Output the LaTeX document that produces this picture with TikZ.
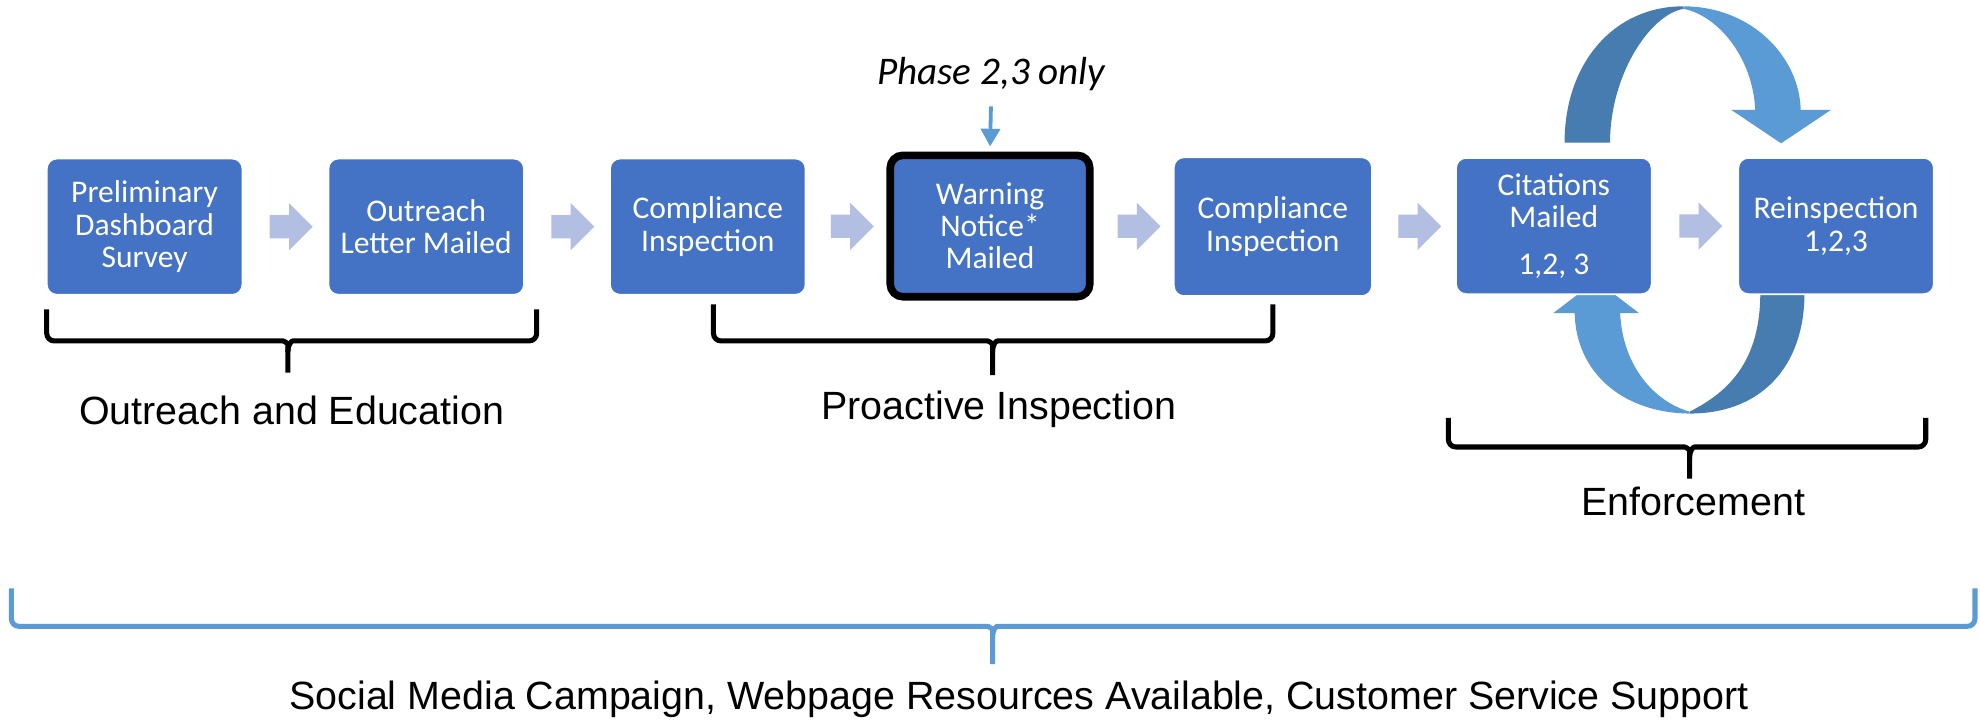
\documentclass[tikz,border=0pt]{standalone}
\usepackage{fontspec}
\setmainfont{Liberation Sans}
\newfontfamily\carlito{Carlito}
\usetikzlibrary{shapes.arrows,calc,arrows.meta}
\definecolor{boxblue}{RGB}{68,114,196}
\definecolor{chev}{RGB}{178,190,226}
\definecolor{lightarc}{RGB}{91,155,213}
\definecolor{darkarc}{RGB}{70,124,175}
\newcommand\mybrace[7]{% style, x0, x1, xc, ytop, ymid, ybot
  \draw[#1] (#2,#5) -- (#2,#6) -- ({#4-10},#6) .. controls ({#4-3},#6) and (#4,{#6+2}) .. (#4,{#6+9}) -- (#4,#7);
  \draw[#1] (#3,#5) -- (#3,#6) -- ({#4+10},#6) .. controls ({#4+3},#6) and (#4,{#6+2}) .. (#4,{#6+9});
}
\tikzset{
  stepbox/.style={rectangle, rounded corners=8, fill=boxblue, draw=white, line width=1.5,
    minimum width=155, minimum height=108, text=white, align=center, inner sep=0,
    font=\carlito\fontsize{25}{25.5}\selectfont},
  chevron/.style={single arrow, fill=chev, draw=none, minimum height=34, minimum width=37,
    single arrow head extend=9.5, inner xsep=0, inner ysep=9},
  bracestyle/.style={line width=4, rounded corners=6},
  lab/.style={font=\fontsize{31.2}{37}\selectfont, inner sep=0, anchor=base},
}
\begin{document}
\begin{tikzpicture}[x=1pt,y=-1pt]
\path[use as bounding box, fill=white] (0,0) rectangle (1568,569.4);

% circular arrows (behind boxes)
\fill[darkarc] (1239,113) .. controls (1239,50) and (1278,5) .. (1333,5) -- (1333,7)
   .. controls (1306,12) and (1275,60) .. (1275,113) -- cycle;
\fill[lightarc] (1333,5) .. controls (1387,5) and (1425,45) .. (1426,87) -- (1450,87) -- (1410.5,113.5)
   -- (1371,87) -- (1390,87) .. controls (1388,45) and (1360,12) .. (1333,7) -- cycle;
\fill[darkarc] (1429,232) .. controls (1429,290) and (1395,327.5) .. (1338,327.5) -- (1338,326)
   .. controls (1370,310) and (1394,285) .. (1394,232) -- cycle;
\fill[lightarc] (1247,248) -- (1230,248) -- (1264,222) -- (1298,248) -- (1283,248)
   .. controls (1285,290) and (1310,318) .. (1338,326) -- (1338,327.5)
   .. controls (1285,327) and (1248,295) .. (1247,248) -- cycle;

% boxes
\node[stepbox] (b1) at (114.5,179.5) {Preliminary\\Dashboard\\Survey};
\node[stepbox] (b2) at (337.5,179.5) {Outreach\\Letter Mailed};
\node[stepbox] (b3) at (560.5,179.5) {Compliance\\Inspection};
\node[stepbox, draw=black, line width=6, minimum width=158, minimum height=112, rounded corners=10] (b4) at (784,179) {Warning\\Notice*\\Mailed};
\node[stepbox, minimum width=157, minimum height=110] (b5) at (1008,179.5) {Compliance\\Inspection};
\node[stepbox] (b6) at (1230.5,179) {Citations\\Mailed\\[11pt]1,2, 3};
\node[stepbox] (b7) at (1454,179) {Reinspection\\1,2,3};

% chevrons
\foreach \a/\b/\n in {b1/b2/c1, b2/b3/c2, b3/b4/c3, b4/b5/c4, b5/b6/c5, b6/b7/c6}
  \node[chevron] (\n) at ($(\a.east)!0.5!(\b.west)$) {};

% phase note
\node[font=\carlito\itshape\fontsize{31}{36}\selectfont, inner sep=0, anchor=base] (phase) at (785,67) {Phase 2,3 only};
\draw[lightarc, line width=3, -{Triangle[length=14,width=15]}, shorten <=12, shorten >=4] (phase.south) -- (b4.north);

% braces
\mybrace{bracestyle}{37}{425}{228}{245}{270}{295}
\mybrace{bracestyle}{565}{1008}{786}{241}{270}{297}
\mybrace{bracestyle}{1147}{1525}{1338}{331}{354}{379}
\mybrace{bracestyle, lightarc}{9}{1564}{786}{466}{496}{526}

% labels
\node[lab] (l1) at (231,336) {Outreach and Education};
\node[lab] (l2) at (791,332) {Proactive Inspection};
\node[lab] (l3) at (1341,408) {Enforcement};
\node[lab] (l4) at (807,562) {Social Media Campaign, Webpage Resources Available, Customer Service Support};
\end{tikzpicture}
\end{document}
